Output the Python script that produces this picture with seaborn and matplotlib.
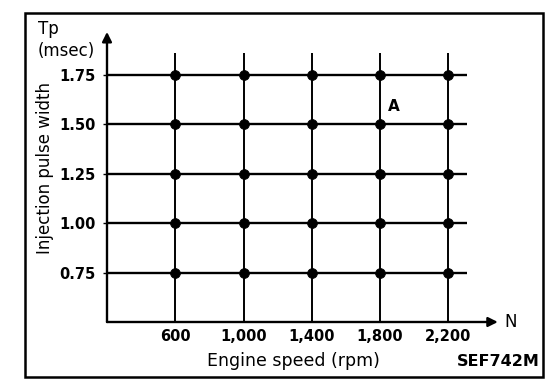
import matplotlib
matplotlib.use("Agg")
import matplotlib.pyplot as plt
import seaborn as sns
import pandas as pd
from matplotlib.patches import Rectangle

# grid of measurement points
speeds = [600, 1000, 1400, 1800, 2200]
speed_labels = ["600", "1,000", "1,400", "1,800", "2,200"]
pulse = [0.75, 1.00, 1.25, 1.50, 1.75]
pulse_labels = ["0.75", "1.00", "1.25", "1.50", "1.75"]
point_a = (1880, 1.59)

sns.set_style("white")
plt.rcParams['font.family'] = ['DejaVu Sans']
plt.rcParams['text.color'] = 'black'
plt.rcParams['xtick.color'] = 'black'
plt.rcParams['ytick.color'] = 'black'

df = pd.DataFrame([(n, tp) for tp in pulse for n in speeds], columns=["speed", "tp"])

W, H = 560, 388
fig = plt.figure(figsize=(W / 100, H / 100), dpi=100)
ax = fig.add_axes([107 / W, 1 - 322 / H, 384 / W, 297 / H])
ax.set_xlim(200, 2450)
ax.set_ylim(0.5, 2.0)

# grid lines through the points
ax.hlines(pulse, 200, 2310, color="black", lw=1.7, zorder=2)
ax.vlines(speeds, 0.5, 1.86, color="black", lw=1.4, zorder=2)
sns.scatterplot(data=df, x="speed", y="tp", color="black", s=50,
                edgecolor="black", ax=ax, zorder=3, legend=False)

for s in ax.spines.values():
    s.set_visible(False)

# axes with arrows
ax.annotate("", xy=(200, 1.965), xytext=(200, 0.5),
            arrowprops=dict(arrowstyle="-|>", color="black", lw=1.7,
                            mutation_scale=14, shrinkA=0, shrinkB=0),
            annotation_clip=False)
ax.annotate("", xy=(2490, 0.5), xytext=(200, 0.5),
            arrowprops=dict(arrowstyle="-|>", color="black", lw=1.7,
                            mutation_scale=14, shrinkA=0, shrinkB=0),
            annotation_clip=False)
ax.text(2530, 0.5, "N", fontsize=12, ha="left", va="center")
ax.text(point_a[0], point_a[1], "A", fontsize=11, fontweight="bold", ha="center", va="center")

ax.set_xticks(speeds)
ax.set_xticklabels(speed_labels, fontsize=10.5, fontweight="bold")
ax.set_yticks(pulse)
ax.set_yticklabels(pulse_labels, fontsize=10.5, fontweight="bold")
ax.tick_params(axis="x", length=0, pad=5)
ax.tick_params(axis="y", length=3, width=1, direction="out", pad=5, left=True)
ax.set_xlabel("")
ax.set_ylabel("")

fig.text(38 / W, 1 - 34 / H, "Tp", fontsize=12, ha="left", va="baseline")
fig.text(38 / W, 1 - 56 / H, "(msec)", fontsize=12, ha="left", va="baseline")
fig.text(45 / W, 1 - 168 / H, "Injection pulse width", fontsize=12,
         rotation=90, ha="center", va="center")
fig.text(293 / W, 1 - 366 / H, "Engine speed (rpm)", fontsize=12.5,
         ha="center", va="baseline")
fig.text(540 / W, 1 - 366 / H, "SEF742M", fontsize=11.5, fontweight="bold",
         ha="right", va="baseline")

fig.patches.append(Rectangle((25 / W, 1 - 377 / H), 518 / W, 364 / H,
                             transform=fig.transFigure, fill=False,
                             edgecolor="black", lw=1.8))

fig.savefig("out.png", dpi=100)
